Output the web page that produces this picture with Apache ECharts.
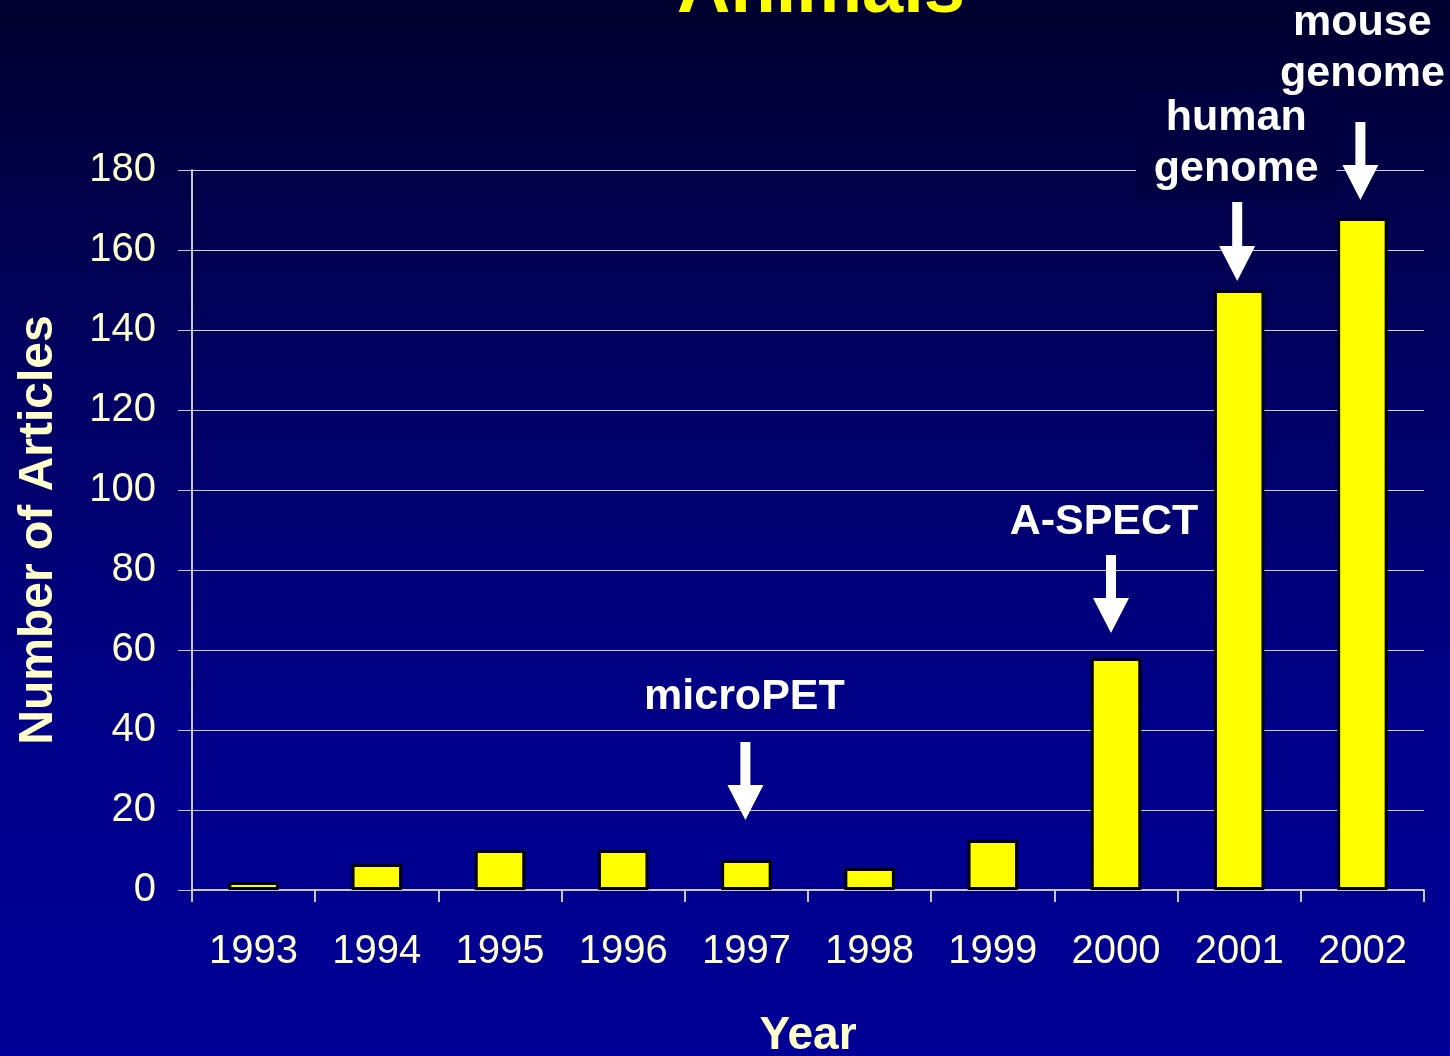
<!DOCTYPE html>
<html>
<head>
<meta charset="utf-8">
<script src="https://cdn.jsdelivr.net/npm/echarts@6/dist/echarts.min.js"></script>
<style>
html,body{margin:0;padding:0;}
#chart{width:1450px;height:1056px;}
</style>
</head>
<body>
<div id="chart"></div>
<script>
// ---- data ----
const years = ['1993','1994','1995','1996','1997','1998','1999','2000','2001','2002'];
const articles = [2, 6.5, 10, 10, 7.5, 5.5, 12.5, 58, 150, 168];
const yTicks = [0, 20, 40, 60, 80, 100, 120, 140, 160, 180];
const titleText = 'Animals';
const xName = 'Year';
const yName = 'Number of Articles';
// annotations anchored in data space: category, text lines, text centre value, arrow top & tip values
const annoYears = ['1997', '2000', '2001', '2002'];
const annoTexts = [['microPET'], ['A-SPECT'], ['human', 'genome'], ['mouse', 'genome']];
const annoTextAt = [48.25, 92, 186.6, 210.25];
const annoArrowTop = [37, 83.75, 172, 192];
const annoArrowTip = [17.5, 64.25, 152.25, 172.5];

const FONT = '"Liberation Sans", Arial, Helvetica, sans-serif';
const cream = '#FFFFCC';

const chart = echarts.init(document.getElementById('chart'));
const option = {
  backgroundColor: {
    type: 'linear', x: 0, y: 0, x2: 0, y2: 1,
    colorStops: [
      {offset: 0, color: '#00002E'},
      {offset: 0.35, color: '#000062'},
      {offset: 0.7, color: '#00008A'},
      {offset: 1, color: '#000096'}
    ]
  },
  animation: false,
  grid: {left: 192, right: 26, top: 170, bottom: 166, containLabel: false, outerBoundsMode: 'none'},
  xAxis: {
    type: 'category',
    data: years,
    boundaryGap: true,
    name: xName,
    nameLocation: 'middle',
    nameGap: 123,
    nameTextStyle: {color: cream, fontSize: 46, fontWeight: 'bold', fontFamily: FONT},
    axisLine: {show: true, lineStyle: {color: '#C8C8C8', width: 2}},
    axisTick: {show: true, length: 12, lineStyle: {color: '#C8C8C8', width: 2}},
    axisLabel: {color: cream, fontSize: 40, fontFamily: FONT, margin: 42}
  },
  yAxis: {
    type: 'value',
    min: yTicks[0],
    max: yTicks[yTicks.length - 1],
    interval: yTicks[1] - yTicks[0],
    name: yName,
    nameLocation: 'middle',
    nameGap: 129,
    nameRotate: 90,
    nameTextStyle: {color: cream, fontSize: 48, fontWeight: 'bold', fontFamily: FONT},
    axisLine: {show: true, lineStyle: {color: '#C8C8C8', width: 2}},
    axisTick: {show: true, length: 14, lineStyle: {color: '#C8C8C8', width: 1}},
    axisLabel: {color: cream, fontSize: 40, fontFamily: FONT, margin: 36},
    splitLine: {show: true, lineStyle: {color: '#D0D0E0', width: 1}}
  },
  series: [{
    type: 'bar',
    data: articles,
    barWidth: '41%',
    itemStyle: {color: '#FFFF00', borderColor: '#000000', borderWidth: 3}
  }]
};
chart.setOption(option);

function buildGraphics() {
  const els = [];
  els.push({
    type: 'text',
    x: 821, y: -8,
    z: 100,
    style: {
      text: titleText, fill: '#FFFF00', fontSize: 74, fontWeight: 'bold', fontFamily: FONT,
      align: 'center', verticalAlign: 'middle',
      textShadowColor: '#000000', textShadowOffsetX: 3, textShadowOffsetY: 3, textShadowBlur: 0
    }
  });
  const textDx = [-2, -12, -3, 0];
  const arrowDx = [-1, -5, -2, -2];
  for (let i = 0; i < annoYears.length; i++) {
    const pText = chart.convertToPixel({xAxisIndex: 0, yAxisIndex: 0}, [annoYears[i], annoTextAt[i]]);
    const pTop = chart.convertToPixel({xAxisIndex: 0, yAxisIndex: 0}, [annoYears[i], annoArrowTop[i]]);
    const pTip = chart.convertToPixel({xAxisIndex: 0, yAxisIndex: 0}, [annoYears[i], annoArrowTip[i]]);
    const ax = pTop[0] + arrowDx[i];
    const headH = 35, headW = 18, shaftW = 5;
    const headTop = pTip[1] - headH;
    els.push({
      type: 'polygon', z: 100,
      shape: {points: [
        [ax - shaftW, pTop[1]], [ax + shaftW, pTop[1]], [ax + shaftW, headTop],
        [ax + headW, headTop], [ax, pTip[1]], [ax - headW, headTop], [ax - shaftW, headTop]
      ]},
      style: {fill: '#FFFFFF'}
    });
    const style = {
      text: annoTexts[i].join('\n'), fill: '#FFFFFF', fontSize: 43, fontWeight: 'bold', fontFamily: FONT,
      align: 'center', verticalAlign: 'middle', lineHeight: 51
    };
    if (annoYears[i] === '2001') {
      style.backgroundColor = '#000040';
      style.padding = [0, 18, 0, 18];
    }
    els.push({type: 'text', x: pText[0] + textDx[i], y: pText[1], z: 101, style: style});
  }
  chart.setOption({graphic: els});
}
buildGraphics();
</script>
</body>
</html>
